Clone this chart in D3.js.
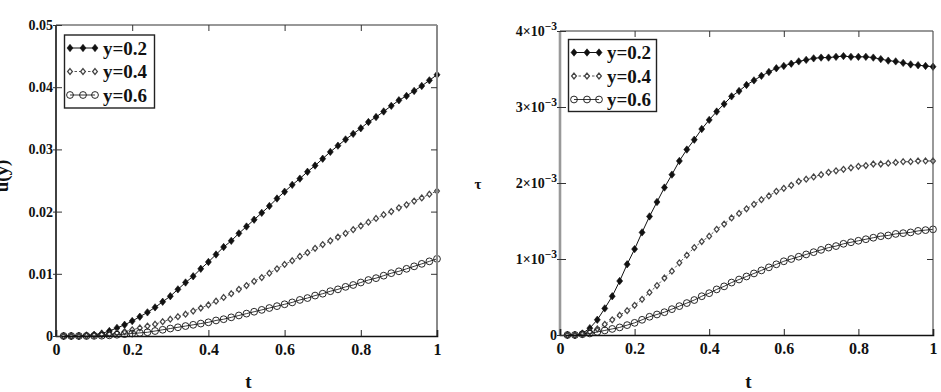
<!DOCTYPE html>
<html><head><meta charset="utf-8">
<script src="https://cdn.jsdelivr.net/npm/d3@7"></script>
<style>
body{margin:0;background:#fff;}
</style></head><body>
<svg id="c" width="941" height="392"></svg>
<script>
// ---------- data ----------
const tValues = [0.02,0.04,0.06,0.08,0.10,0.12,0.14,0.16,0.18,0.20,
  0.22,0.24,0.26,0.28,0.30,0.32,0.34,0.36,0.38,0.40,
  0.42,0.44,0.46,0.48,0.50,0.52,0.54,0.56,0.58,0.60,
  0.62,0.64,0.66,0.68,0.70,0.72,0.74,0.76,0.78,0.80,
  0.82,0.84,0.86,0.88,0.90,0.92,0.94,0.96,0.98,1.00];

const seriesNames = ["y=0.2","y=0.4","y=0.6"];

// left panel: u(y) vs t
const uY02 = [0,0,0.00002,0.0001,0.0002,0.0004,0.0008,0.0013,0.0018,0.0024,
  0.0031,0.0038,0.0046,0.0055,0.0064,0.0075,0.0086,0.0096,0.0108,0.0119,
  0.0131,0.0143,0.0153,0.0165,0.0176,0.0187,0.0198,0.0209,0.0221,0.0232,
  0.0243,0.0253,0.0264,0.0274,0.0285,0.0296,0.0306,0.0316,0.0325,0.0334,
  0.0344,0.0352,0.0361,0.0370,0.0379,0.0386,0.0394,0.0402,0.0411,0.0420];
const uY04 = [0,0,0,0.00003,0.0001,0.0002,0.0003,0.0005,0.0007,0.0010,
  0.0013,0.0016,0.0019,0.0023,0.0027,0.0031,0.0035,0.0040,0.0045,0.0050,
  0.0056,0.0062,0.0068,0.0075,0.0081,0.0088,0.0094,0.0101,0.0108,0.0115,
  0.0121,0.0128,0.0134,0.0141,0.0147,0.0153,0.0159,0.0165,0.0171,0.0177,
  0.0183,0.0189,0.0195,0.0200,0.0206,0.0211,0.0217,0.0222,0.0228,0.0233];
const uY06 = [0,0,0,0,0.00002,0.00005,0.0001,0.0002,0.0003,0.0004,
  0.0005,0.0006,0.0008,0.0010,0.0012,0.0014,0.0016,0.0018,0.0020,0.0022,
  0.0025,0.0027,0.0030,0.0033,0.0036,0.0039,0.0042,0.0045,0.0048,0.0051,
  0.0054,0.0058,0.0061,0.0065,0.0068,0.0072,0.0075,0.0079,0.0082,0.0086,
  0.0090,0.0093,0.0097,0.0101,0.0104,0.0108,0.0112,0.0116,0.0120,0.0124];

// right panel: tau vs t
const tauY02 = [0,0,0.00002,0.00009,0.0002,0.00035,0.00051,0.00071,0.00093,0.00113,
  0.00135,0.00156,0.00175,0.00194,0.00211,0.00229,0.00244,0.00257,0.00271,0.00283,
  0.00294,0.00304,0.00314,0.00321,0.00329,0.00335,0.00341,0.00346,0.00351,0.00354,
  0.00357,0.00360,0.00362,0.00364,0.00365,0.00365,0.00366,0.00367,0.00366,0.00366,
  0.00366,0.00365,0.00363,0.00361,0.00360,0.00358,0.00356,0.00355,0.00354,0.00353];
const tauY04 = [0,0,0.00001,0.00004,0.00008,0.00014,0.0002,0.00026,0.00032,0.00039,
  0.00047,0.00056,0.00065,0.00075,0.00084,0.00095,0.00105,0.00115,0.00123,0.0013,
  0.00139,0.00146,0.00154,0.0016,0.00166,0.00172,0.00178,0.00183,0.00189,0.00193,
  0.00197,0.00202,0.00205,0.00208,0.00211,0.00214,0.00216,0.00218,0.0022,0.00222,
  0.00223,0.00225,0.00225,0.00226,0.00227,0.00228,0.00228,0.00229,0.00229,0.00229];
const tauY06 = [0,0,0.00001,0.00002,0.00004,0.00006,0.00008,0.0001,0.00013,0.00016,
  0.0002,0.00024,0.00027,0.0003,0.00034,0.00038,0.00042,0.00046,0.00051,0.00055,
  0.0006,0.00064,0.00069,0.00073,0.00077,0.00081,0.00085,0.00089,0.00093,0.00097,
  0.001,0.00103,0.00106,0.00109,0.00112,0.00115,0.00117,0.0012,0.00122,0.00124,
  0.00126,0.00128,0.0013,0.00131,0.00133,0.00134,0.00135,0.00137,0.00138,0.00139];

// ticks
const xTicks = [0,0.2,0.4,0.6,0.8,1];
const xTickLabels = ["0","0.2","0.4","0.6","0.8","1"];
const leftYTicks = [0,0.01,0.02,0.03,0.04,0.05];
const leftYTickLabels = ["0","0.01","0.02","0.03","0.04","0.05"];
const rightYTicks = [0,0.001,0.002,0.003,0.004];
const rightYMantissa = ["0","1\u00d710","2\u00d710","3\u00d710","4\u00d710"];
const rightYExponent = ["","\u22123","\u22123","\u22123","\u22123"];

// ---------- drawing ----------
const FONT = "'Liberation Serif', 'Times New Roman', 'DejaVu Serif', serif";
const svg = d3.select("#c");

const diamondFilled = "M0,-3.7L3,0L0,3.7L-3,0Z";
const diamondOpen = "M0,-2.9L2.4,0L0,2.9L-2.4,0Z";

const styles = [
  {line:"#111", dash:null, width:1, marker:"dfill"},
  {line:"#555", dash:"2.5,2", width:1, marker:"dopen"},
  {line:"#222", dash:null, width:0.9, marker:"circle"}
];

function drawMarker(g, kind, cx, cy) {
  if (kind === "dfill") {
    g.append("path").attr("d", diamondFilled).attr("transform", `translate(${cx},${cy})`)
      .attr("fill", "#111").attr("stroke", "#111").attr("stroke-width", 0.6);
  } else if (kind === "dopen") {
    g.append("path").attr("d", diamondOpen).attr("transform", `translate(${cx},${cy})`)
      .attr("fill", "#fff").attr("stroke", "#444").attr("stroke-width", 1.25);
  } else {
    g.append("circle").attr("cx", cx).attr("cy", cy).attr("r", 3.4)
      .attr("fill", "none").attr("stroke", "#111").attr("stroke-width", 0.9);
  }
}

function panel(cfg) {
  const x = d3.scaleLinear().domain([0,1]).range([cfg.x0, cfg.x1]);
  const y = d3.scaleLinear().domain([0,cfg.ymax]).range([cfg.y0, cfg.y1]);
  const g = svg.append("g");

  // series
  cfg.series.forEach((vals, i) => {
    const st = styles[i];
    const pts = tValues.map((t, j) => [t, vals[j]]);
    const line = d3.line().x(d => x(d[0])).y(d => y(d[1]));
    g.append("path").attr("d", line(pts)).attr("fill", "none")
      .attr("stroke", st.line).attr("stroke-width", st.width)
      .attr("stroke-dasharray", st.dash);
    const mg = g.append("g");
    pts.forEach(p => drawMarker(mg, st.marker, x(p[0]), y(p[1])));
  });

  // frame
  g.append("line").attr("x1", cfg.x0).attr("x2", cfg.x1).attr("y1", cfg.y1).attr("y2", cfg.y1)
    .attr("stroke", "#333").attr("stroke-width", 1.2);
  g.append("line").attr("x1", cfg.x1).attr("x2", cfg.x1).attr("y1", cfg.y0).attr("y2", cfg.y1)
    .attr("stroke", cfg.rightColor).attr("stroke-width", cfg.rightWidth);
  g.append("line").attr("x1", cfg.x0).attr("x2", cfg.x0).attr("y1", cfg.y0).attr("y2", cfg.y1)
    .attr("stroke", cfg.leftColor).attr("stroke-width", cfg.leftWidth);

  // axes
  const bottom = g.append("g").attr("transform", `translate(0,${cfg.y0})`)
    .call(d3.axisBottom(x).tickValues(xTicks).tickSize(-6).tickPadding(8)
      .tickFormat((d, i) => xTickLabels[i]));
  bottom.select(".domain").attr("stroke", "#111").attr("stroke-width", 1.6);
  bottom.selectAll("line").attr("stroke", "#222");
  bottom.selectAll("text").style("font-size", "16px");

  const top = g.append("g").attr("transform", `translate(0,${cfg.y1})`)
    .call(d3.axisTop(x).tickValues(xTicks.slice(1, -1)).tickSize(-6).tickFormat(""));
  top.select(".domain").remove();
  top.selectAll("line").attr("stroke", "#333");

  const right = g.append("g").attr("transform", `translate(${cfg.x1},0)`)
    .call(d3.axisRight(y).tickValues(cfg.yTicks.slice(1, -1)).tickSize(-6).tickFormat(""));
  right.select(".domain").remove();
  right.selectAll("line").attr("stroke", "#333");

  const left = g.append("g").attr("transform", `translate(${cfg.x0},0)`)
    .call(d3.axisLeft(y).tickValues(cfg.yTicks).tickSizeInner(-6).tickSizeOuter(0).tickPadding(3)
      .tickFormat((d, i) => cfg.yLabels[i]));
  left.select(".domain").remove();
  left.selectAll("line").attr("stroke", "#333");
  left.selectAll(".tick").append("line").attr("x1", -3).attr("x2", 0).attr("stroke", "#333");
  left.selectAll("text").style("font-size", "14px");
  if (cfg.yExp) {
    left.selectAll(".tick text").each(function(d, i) {
      const t = d3.select(this);
      t.text(null);
      t.append("tspan").text(cfg.yLabels[i]);
      if (cfg.yExp[i]) t.append("tspan").attr("dy", "-0.5em").style("font-size", "11.5px").text(cfg.yExp[i]);
    });
  }

  // legend
  const lg = g.append("g");
  lg.append("rect").attr("x", cfg.leg.x).attr("y", cfg.leg.y).attr("width", cfg.leg.w).attr("height", cfg.leg.h)
    .attr("fill", "#fff").attr("stroke", "#222").attr("stroke-width", 1.4);
  seriesNames.forEach((name, i) => {
    const st = styles[i];
    const cy = cfg.leg.y + 13 + i * 23.5;
    const mx = cfg.leg.mx;
    lg.append("line").attr("x1", mx[0]).attr("x2", mx[2]).attr("y1", cy).attr("y2", cy)
      .attr("stroke", st.line).attr("stroke-width", st.width).attr("stroke-dasharray", st.dash);
    mx.forEach(px => drawMarker(lg, st.marker, px, cy));
    lg.append("text").attr("x", cfg.leg.tx).attr("y", cy + 6.5).style("font-size", "19px").text(name);
  });

  // axis titles
  g.append("text").attr("x", (cfg.x0 + cfg.x1) / 2 + 2).attr("y", 388).attr("text-anchor", "middle")
    .style("font-size", "19px").text("t");
  return g;
}

panel({
  x0: 56, x1: 437, y0: 336, y1: 25, ymax: 0.05,
  series: [uY02, uY04, uY06],
  yTicks: leftYTicks, yLabels: leftYTickLabels,
  leftColor: "#111", leftWidth: 1.6, rightColor: "#8a8a8a", rightWidth: 2,
  leg: {x: 64.5, y: 35, w: 90, h: 73, mx: [70, 83, 95], tx: 103}
});

panel({
  x0: 560, x1: 933, y0: 335, y1: 31, ymax: 0.004,
  series: [tauY02, tauY04, tauY06],
  yTicks: rightYTicks, yLabels: rightYMantissa, yExp: rightYExponent,
  leftColor: "#999", leftWidth: 2.6, rightColor: "#555", rightWidth: 1.2,
  leg: {x: 568.5, y: 39.5, w: 88, h: 72, mx: [574, 587, 599], tx: 607}
});

// y-axis titles
svg.append("text").attr("transform", "translate(8,176) rotate(-90)").attr("text-anchor", "middle")
  .style("font-size", "19px").text("u(y)");
svg.append("text").attr("x", 478).attr("y", 189).attr("text-anchor", "middle")
  .style("font-size", "15px").text("\u03c4");

// uniform bold serif text
svg.selectAll("g").attr("font-family", null);
svg.selectAll("text").style("font-family", FONT).style("font-weight", "bold").attr("fill", "#111");
</script>
</body></html>
